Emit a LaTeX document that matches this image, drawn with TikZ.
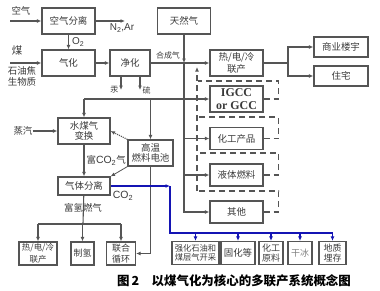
\documentclass[tikz,border=0pt]{standalone}
\usepackage{fontspec}
\setmainfont{Noto Sans CJK SC}
\newfontfamily\latinserif{Liberation Serif}
\newfontfamily\latinsans{Liberation Sans}
\usetikzlibrary{arrows.meta, positioning}
\definecolor{linegray}{HTML}{555555}
\definecolor{textgray}{HTML}{3A3A3A}
\definecolor{co2blue}{HTML}{1414B4}
\newcommand{\fs}[1]{\fontsize{#1}{#1}\selectfont}

\begin{document}
\begin{tikzpicture}[
    x=1bp, y=-1bp,
    box/.style = {rectangle, draw=linegray, line width=1.1bp, inner sep=0.5pt,
                  align=center, text=textgray, font=\fs{9.5}},
    big/.style = {box, minimum width=53bp, minimum height=26bp},
    prod/.style = {box, minimum width=53bp, minimum height=22bp},
    user/.style = {box, minimum width=54bp, minimum height=20bp},
    sink/.style = {box, minimum height=23bp},
    lbl/.style = {inner sep=0pt, text=textgray, font=\fs{9.5}},
    arrow/.style = {-{Latex[length=4.5bp,width=3.8bp]}, line width=1.1bp, color=linegray},
    line/.style = {line width=1.1bp, color=linegray},
    recycle/.style = {line width=1.1bp, color=linegray, dash pattern=on 6bp off 4bp},
    blueline/.style = {line width=1.1bp, color=co2blue},
    bluearrow/.style = {blueline, -{Latex[length=4.5bp,width=3.8bp]}}
  ]
  \useasboundingbox (0,0) rectangle (380,291);

  % gasification train
  \node[big] (kqfl) at (68.5,21) {空气分离};
  \node[big] (qh)   at (68.5,63) {气化};
  \node[box, minimum width=40bp, minimum height=26bp] (jh) at (130,63) {净化};
  \node[big] (trq)  at (184,21) {天然气};

  % products
  \node[big]  (rdl)  at (236.5,63)    {热/电/冷\\[1pt]联产};
  \node[big, font=\latinserif\bfseries\fs{12}] (igcc) at (236.5,99) {IGCC\\[1pt]or GCC};
  \node[prod] (hgcp) at (236.5,138.5) {化工产品};
  \node[prod] (ytrl) at (236.5,175)   {液体燃料};
  \node[prod] (qt)   at (236.5,212)   {其他};
  \node[user] (sylw) at (341,47) {商业楼宇};
  \node[user] (zz)   at (341,76) {住宅};

  % shift and separation
  \node[big, minimum width=52bp] (smq)  at (84,131) {水煤气\\[1pt]变换};
  \node[box, minimum width=45bp, minimum height=26bp] (rldc) at (150.5,153) {高温\\[1pt]燃料电池};
  \node[box, minimum width=52bp, minimum height=18bp] (qtfl) at (84,186) {气体分离};

  % hydrogen users
  \node[sink, minimum width=38bp, font=\fs{8.5}] (b1) at (38,253.5) {热/电/冷\\[2pt]联产};
  \node[sink, minimum width=23bp, font=\fs{9}]   (b2) at (82.5,253.5) {制氢};
  \node[sink, minimum width=29bp, font=\fs{9}]   (b3) at (121,253.5) {联合\\[2pt]循环};

  % CO2 users
  \node[sink, minimum width=47bp, font=\fs{8.3}] (c1) at (195.5,253) {强化石油和\\[1pt]煤层气开采};
  \node[sink, minimum width=34bp, font=\fs{9.5}] (c2) at (238,253)   {固化等};
  \node[sink, minimum width=24bp, font=\fs{9}]   (c3) at (271,253)   {化工\\[1pt]原料};
  \node[sink, minimum width=24bp, font=\fs{9}, text=gray] (c4) at (300,253) {干冰};
  \node[sink, minimum width=27bp, font=\fs{9}]   (c5) at (332.5,253) {地质\\[1pt]埋存};

  % feeds and labels
  \node[lbl] (air)   at (21,11)  {空气};
  \node[lbl, font=\fs{10.5}] (coal) at (17,51) {煤};
  \node[lbl] (pcoke) at (22,71)  {石油焦};
  \node[lbl] (bio)   at (22,82)  {生物质};
  \node[lbl] (steam) at (23,131) {蒸汽};
  \coordinate (airin)  at (10,21);
  \coordinate (coalin) at (10,63);
  \coordinate (n2out)  at (125,21);
  \coordinate (hgout)  at (121,90);
  \coordinate (sout)   at (140,90);

  \draw[arrow] (airin) -- (kqfl);
  \draw[arrow] (kqfl) -- (n2out);
  \node[lbl, font=\latinsans\fs{10}] at (122,28) {N\textsubscript{2},Ar};
  \draw[arrow] (kqfl) -- node[lbl, right=3bp, font=\latinsans\fs{10}] {O\textsubscript{2}} (qh);
  \draw[arrow] (coalin) -- (qh);
  \draw[arrow] (qh) -- (jh);
  \draw[arrow] (jh.south -| hgout) -- (hgout) node[lbl, left=2bp, font=\fs{8}] {汞};
  \draw[arrow] (jh.south -| sout) -- (sout) node[lbl, right=2bp, font=\fs{8}] {硫};
  \draw[arrow] (jh) -- (rdl);
  \node[lbl, font=\fs{8}] at (168,55) {合成气};

  % natural gas trunk and syngas distribution
  \draw[arrow] (trq) -- (trq.south |- rdl.west);
  \draw[arrow] (trq.south |- rdl.west) |- (qt);
  \draw[arrow] (trq.south |- hgcp) -- (hgcp);
  \draw[arrow] (trq.south |- ytrl) -- (ytrl);
  \draw[arrow] (smq.north |- igcc) -- (igcc);
  \draw[arrow] (smq.north |- igcc) -- (smq);
  \draw[arrow] (rldc.north |- igcc) -- (rldc);

  % heat and power users
  \coordinate (hsplit) at (288,63);
  \draw[line] (rdl) -- (hsplit);
  \draw[arrow] (hsplit) |- (sylw);
  \draw[arrow] (hsplit) |- (zz);

  % off-gas recycle
  \foreach \p/\d in {igcc/18, hgcp/21.5, ytrl/22, qt/21}
    \draw[recycle] (\p.east) -- ++(15,0) -- ++(0,-\d) -- ++(-81,0);
  \coordinate (retbot) at (197,191);
  \coordinate (rettop) at (197,67);
  \draw[recycle, -{Latex[length=4.5bp,width=3.8bp]}] (retbot) -- (rettop);

  % shift, fuel cell, separation
  \draw[arrow] (steam) -- (smq);
  \draw[arrow] (smq) -- node[lbl, right=2bp] {富{\latinsans\fs{10.5}CO\textsubscript{2}}气} (qtfl);
  \draw[arrow, densely dotted] (rldc.north west) -- (smq.east);
  \draw[arrow, line width=0.8bp] (rldc.south west) -- (qtfl.north east);
  \draw[arrow] (rldc.south) |- (b3);

  % hydrogen-rich gas
  \coordinate (h2split) at (83,224);
  \draw[line] (qtfl) -- (h2split);
  \node[lbl] at (83,208) {富氢燃气};
  \draw[line] (b1.north |- h2split) -- (b3.north |- h2split);
  \foreach \b in {b1, b2, b3}
    \draw[arrow] (\b.north |- h2split) -- (\b);

  % CO2
  \coordinate (co2turn) at (170,186);
  \coordinate (co2bus)  at (170,233);
  \draw[bluearrow] (qtfl) -- (co2turn);
  \node[lbl, font=\latinsans\fs{10.5}] at (123,196) {CO\textsubscript{2}};
  \draw[blueline] (co2turn) -- (co2bus) -- (c5.north |- co2bus);
  \foreach \c in {c1, c2, c3, c4, c5}
    \draw[bluearrow] (\c.north |- co2bus) -- (\c);

  \node[inner sep=0pt, font=\bfseries\fs{12.5}] (cap) at (234,281)
    {图\,2\quad 以煤气化为核心的多联产系统概念图};
\end{tikzpicture}
\end{document}
